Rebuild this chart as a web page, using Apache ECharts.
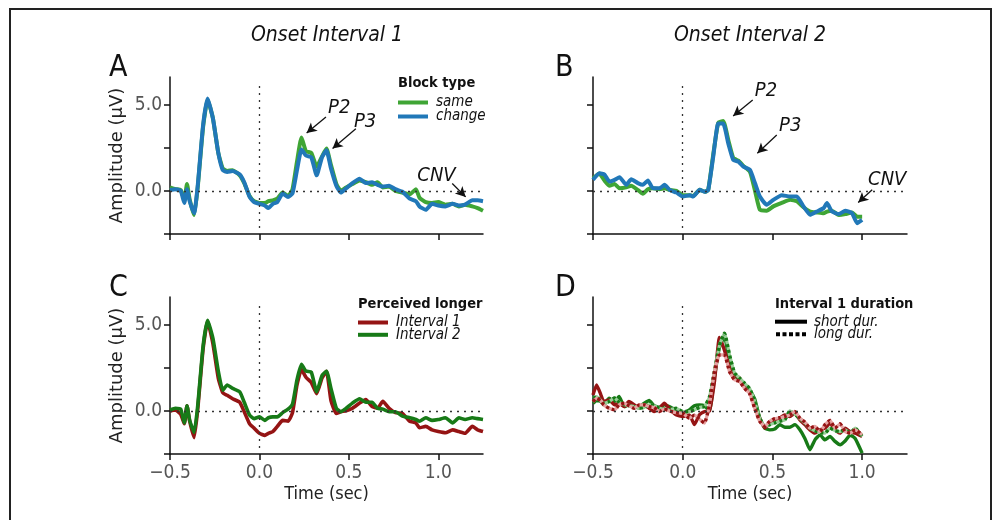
<!DOCTYPE html>
<html><head><meta charset="utf-8">
<script src="https://cdn.jsdelivr.net/npm/echarts@6/dist/echarts.min.js"></script>
<style>html,body{margin:0;padding:0;background:#fff}#c{width:1002px;height:520px}</style>
</head><body><div id="c"></div>
<script>
// ---------------- DATA ----------------
const xTicks = [-0.5, 0, 0.5, 1.0];
const yTicks = [-2.5, 0, 2.5, 5];
const yLabels = [0, 5];

// Panel A / C time points (sec)
const tA = [-0.5,-0.47,-0.44,-0.42,-0.405,-0.39,-0.365,-0.345,-0.315,-0.29,-0.26,-0.23,-0.205,-0.18,-0.15,-0.11,-0.085,-0.055,-0.03,0.0,0.03,0.05,0.075,0.1,0.13,0.16,0.185,0.21,0.235,0.26,0.29,0.32,0.35,0.375,0.40,0.43,0.455,0.485,0.52,0.56,0.595,0.63,0.66,0.69,0.725,0.76,0.80,0.84,0.875,0.895,0.93,0.965,1.0,1.04,1.08,1.115,1.15,1.19,1.22,1.25];
const aSame = [0.2,0.1,0.05,-0.5,0.4,-0.5,-1.4,0.2,3.7,5.3,4.2,2.2,1.3,1.15,1.2,0.9,0.45,-0.3,-0.6,-0.7,-0.7,-0.6,-0.55,-0.45,-0.1,-0.3,0.1,1.7,3.1,2.3,2.2,1.4,2.0,2.45,1.5,0.4,0.0,0.2,0.4,0.6,0.5,0.35,0.5,0.2,0.25,0.0,-0.1,-0.2,0.1,-0.4,-0.65,-0.7,-0.65,-0.8,-0.75,-0.9,-0.8,-0.9,-1.0,-1.15];
const aChange = [0.05,0.1,0.0,-0.7,0.1,-0.6,-1.3,0.3,3.8,5.35,4.2,2.2,1.2,1.1,1.15,0.95,0.5,-0.35,-0.65,-0.75,-0.85,-1.0,-0.75,-0.65,-0.15,-0.35,-0.15,1.2,2.4,2.05,1.95,0.9,1.95,2.35,1.3,0.3,-0.1,0.15,0.45,0.7,0.45,0.5,0.35,0.25,0.3,0.1,-0.05,-0.45,-0.6,-0.9,-1.1,-0.75,-0.85,-0.9,-0.75,-0.85,-0.8,-0.55,-0.55,-0.6];

const tC = tA;
const cInt1 = [0.0,0.05,-0.2,-0.75,0.3,-0.6,-1.55,0.1,3.6,5.2,3.9,1.9,1.05,0.9,0.7,0.5,-0.05,-0.75,-1.0,-1.3,-1.42,-1.3,-1.2,-0.9,-0.55,-0.6,-0.1,1.5,2.4,1.95,1.65,1.0,1.9,2.3,0.6,-0.15,-0.05,0.0,0.15,0.45,0.65,0.25,0.15,0.55,0.15,-0.1,-0.15,-0.6,-0.7,-0.98,-0.9,-1.1,-1.2,-1.27,-1.1,-1.2,-1.3,-0.9,-1.1,-1.2];
const cInt2 = [0.05,0.15,0.1,-0.7,0.3,-0.55,-1.25,0.3,3.75,5.25,4.2,2.3,1.2,1.5,1.3,1.1,0.5,-0.25,-0.45,-0.35,-0.55,-0.4,-0.35,-0.35,-0.1,0.1,0.4,1.8,2.7,2.3,2.25,1.1,2.05,2.3,1.3,0.15,-0.05,0.15,0.45,0.7,0.5,0.5,0.15,0.1,-0.05,-0.05,-0.3,-0.4,-0.5,-0.6,-0.4,-0.55,-0.5,-0.4,-0.7,-0.4,-0.5,-0.4,-0.45,-0.5];

// Panel B time points
const tB = [-0.5,-0.464,-0.436,-0.408,-0.38,-0.352,-0.315,-0.287,-0.25,-0.222,-0.194,-0.166,-0.129,-0.101,-0.073,-0.035,0.0,0.04,0.058,0.095,0.123,0.142,0.17,0.198,0.226,0.254,0.282,0.31,0.338,0.375,0.403,0.43,0.468,0.505,0.552,0.599,0.636,0.673,0.71,0.747,0.785,0.804,0.832,0.87,0.906,0.944,0.972,1.0];
const bSame = [0.73,1.0,0.6,0.3,0.4,0.15,0.2,0.3,0.05,-0.17,0.1,0.15,0.1,0.15,0.06,0.0,-0.25,-0.25,-0.3,0.06,-0.05,0.05,2.1,3.95,4.05,2.95,1.9,1.75,1.45,1.1,0.0,-1.1,-1.15,-0.9,-0.7,-0.52,-0.6,-0.95,-1.2,-1.25,-1.3,-1.2,-1.15,-1.4,-1.35,-1.25,-1.5,-1.5];
const bChange = [0.64,1.02,0.95,0.54,0.64,0.79,0.35,0.67,0.45,0.35,0.6,0.15,0.15,0.35,0.06,-0.1,-0.33,-0.25,-0.33,0.06,-0.05,0.05,1.98,3.9,3.9,2.75,1.79,1.7,1.4,1.21,0.44,-0.33,-0.81,-0.52,-0.25,-0.33,-0.33,-0.9,-1.39,-1.2,-1.0,-0.71,-1.2,-1.34,-1.15,-1.3,-1.87,-1.68];

// Panel D time points
const tD = [-0.5,-0.48,-0.457,-0.44,-0.41,-0.38,-0.355,-0.325,-0.3,-0.27,-0.243,-0.215,-0.187,-0.16,-0.13,-0.103,-0.075,-0.037,0.0,0.037,0.065,0.093,0.121,0.149,0.177,0.205,0.233,0.261,0.289,0.317,0.345,0.373,0.401,0.429,0.457,0.485,0.513,0.541,0.569,0.597,0.625,0.653,0.681,0.709,0.737,0.765,0.793,0.821,0.849,0.877,0.905,0.933,0.961,1.0];
const dShortI1 = [0.92,1.5,0.96,0.54,0.64,0.35,0.44,0.25,0.54,0.35,0.15,0.35,0.15,-0.04,0.15,0.44,0.15,-0.23,-0.33,-0.23,-0.8,-0.23,-0.04,0.0,1.7,4.25,3.5,2.5,2.08,1.9,1.5,1.2,0.35,-0.42,-1.0,-0.71,-0.52,-0.42,-0.23,-0.33,-0.13,-0.52,-0.8,-1.1,-1.29,-1.1,-1.0,-0.71,-1.1,-1.29,-1.0,-1.2,-1.29,-1.48];
const dShortI2 = [0.44,0.6,0.55,0.35,0.73,0.54,0.83,0.25,0.35,0.2,0.25,0.44,0.6,0.3,0.2,0.35,0.25,0.05,-0.13,0.06,0.3,0.35,0.3,0.0,2.0,3.7,4.3,2.8,2.0,1.75,1.5,1.2,0.7,-0.4,-1.0,-1.1,-1.05,-0.8,-0.95,-0.95,-0.8,-1.1,-1.6,-2.25,-1.68,-1.39,-1.68,-1.48,-1.77,-1.97,-1.75,-1.4,-1.6,-2.45];
const dLongI1 = [0.54,0.73,0.6,0.35,0.15,0.06,0.35,0.44,0.3,0.15,0.35,0.35,0.25,0.2,-0.04,0.1,0.0,-0.1,-0.13,-0.42,-0.25,-0.48,-0.71,0.35,2.27,3.24,3.24,2.27,1.8,1.7,1.3,1.0,0.15,-0.6,-0.9,-0.6,-0.45,-0.4,-0.33,-0.23,-0.04,-0.42,-0.65,-1.0,-0.9,-1.2,-0.8,-0.55,-1.0,-0.75,-1.2,-1.29,-1.1,-1.38];
const dLongI2 = [0.73,0.83,0.6,0.44,0.54,0.75,0.5,0.35,0.3,0.25,0.15,0.2,0.35,0.3,0.15,0.1,0.05,0.15,-0.04,-0.04,0.06,0.2,0.25,0.8,2.3,3.8,4.5,3.24,2.2,1.9,1.6,1.3,0.55,-0.42,-0.9,-0.8,-0.7,-0.6,-0.52,0.0,-0.2,-0.45,-0.7,-1.0,-1.15,-1.25,-1.29,-1.0,-1.15,-1.2,-1.1,-1.29,-1.0,-1.48];

// annotations: [label, label position, arrow start, arrow tip]
const annA = [
  ['P2', [0.446, 4.84], [0.372, 4.28], [0.264, 3.35]],
  ['P3', [0.591, 4.0], [0.539, 3.6], [0.409, 2.45]],
  ['CNV', [0.99, 0.9], [1.078, 0.43], [1.153, -0.35]]
];
const annB = [
  ['P2', [0.464, 5.78], [0.39, 5.26], [0.281, 4.34]],
  ['P3', [0.599, 3.76], [0.524, 3.24], [0.416, 2.18]],
  ['CNV', [1.14, 0.64], [1.056, 0.06], [0.978, -0.68]]
];

// ---------------- STYLE ----------------
const FONT = "'DejaVu Sans Condensed', 'DejaVu Sans', sans-serif";
const FONT_N = "'DejaVu Sans', sans-serif";
const C_SAME = '#3fa535', C_CHANGE = '#2178b8';
const C_RED = '#951414', C_GREEN = '#177a17';
const C_PINK = '#e6a3a3', C_LGREEN = '#98cf98';

const grids = [
  {left: 170, top: 77, width: 313, height: 157},
  {left: 593, top: 77, width: 314, height: 157},
  {left: 170, top: 297, width: 313, height: 157},
  {left: 593, top: 297, width: 314, height: 157}
];
const fmt = v => (v < 0 ? '\u2212' + Math.abs(v).toFixed(1) : v.toFixed(1));

const xAxes = grids.map((g, i) => ({
  type: 'value', gridIndex: i, min: -0.5, max: 1.25, interval: 0.5,
  axisLine: {show: true, onZero: false, lineStyle: {color: '#111', width: 1.5}},
  axisTick: {show: true, length: 6, lineStyle: {color: '#111', width: 1.5}, customValues: xTicks},
  axisLabel: {show: i >= 2, customValues: xTicks, formatter: fmt, margin: 10,
    color: '#555', fontSize: 19, fontFamily: FONT},
  splitLine: {show: false},
  name: i >= 2 ? 'Time (sec)' : '', nameLocation: 'middle', nameGap: 31,
  nameTextStyle: {color: '#222', fontSize: 18, fontFamily: FONT}
}));
const yAxes = grids.map((g, i) => ({
  type: 'value', gridIndex: i, min: -2.5, max: 6.6, interval: 2.5,
  axisLine: {show: true, onZero: false, lineStyle: {color: '#111', width: 1.5}},
  axisTick: {show: true, length: 6, lineStyle: {color: '#111', width: 1.5}, customValues: yTicks},
  axisLabel: {show: i % 2 === 0, customValues: yLabels, formatter: fmt, margin: 8,
    color: '#555', fontSize: 19, fontFamily: FONT},
  splitLine: {show: false},
  name: i % 2 === 0 ? 'Amplitude (\u03bcV)' : '', nameLocation: 'middle', nameGap: 44,
  nameTextStyle: {color: '#222', fontSize: 18, fontFamily: FONT_N}
}));

function pairs(t, v) { return t.map((x, k) => [x, v[k]]); }
function lineSeries(name, t, v, gi, color, width, extra) {
  return Object.assign({
    type: 'line', name: name, xAxisIndex: gi, yAxisIndex: gi,
    data: pairs(t, v), symbol: 'none', showSymbol: false, smooth: 0.15,
    lineStyle: {color: color, width: width}, itemStyle: {color: color},
    silent: true, animation: false
  }, extra || {});
}
function refSeries(gi) {
  return {
    type: 'line', name: 'ref' + gi, xAxisIndex: gi, yAxisIndex: gi, data: [],
    symbol: 'none', silent: true, z: 1,
    markLine: {silent: true, symbol: ['none', 'none'], animation: false,
      label: {show: false},
      lineStyle: {color: '#333', type: [2, 5], width: 1.3},
      data: [{yAxis: 0}, [{coord: [0, -2.15]}, {coord: [0, 6.1]}]]}
  };
}
function annSeries(gi, ann) {
  return {
    type: 'line', name: 'ann' + gi, xAxisIndex: gi, yAxisIndex: gi, data: [],
    symbol: 'none', silent: true, z: 5,
    markLine: {silent: true, animation: false, symbol: ['none', 'arrow'], symbolSize: [8, 10],
      label: {show: false}, lineStyle: {color: '#111', type: 'solid', width: 1.3},
      data: ann.map(a => [{coord: a[2]}, {coord: a[3]}])},
    markPoint: {silent: true, animation: false, symbol: 'circle', symbolSize: 0,
      label: {show: true, position: 'inside', formatter: '{b}', color: '#111',
        fontSize: 20, fontStyle: 'italic', fontFamily: FONT},
      data: ann.map(a => ({name: a[0], coord: a[1]}))}
  };
}

const series = [
  refSeries(0), refSeries(1), refSeries(2), refSeries(3),
  lineSeries('same', tA, aSame, 0, C_SAME, 4, {z: 2}),
  lineSeries('change', tA, aChange, 0, C_CHANGE, 4, {z: 3}),
  lineSeries('B same', tB, bSame, 1, C_SAME, 4, {z: 2}),
  lineSeries('B change', tB, bChange, 1, C_CHANGE, 4, {z: 3}),
  lineSeries('Interval 1', tC, cInt1, 2, C_RED, 3.6, {z: 2}),
  lineSeries('Interval 2', tC, cInt2, 2, C_GREEN, 3.6, {z: 3}),
  lineSeries('D short I2', tD, dShortI2, 3, C_GREEN, 3.4, {z: 2}),
  lineSeries('D short I1', tD, dShortI1, 3, C_RED, 3.4, {z: 2}),
  lineSeries('D long I2 base', tD, dLongI2, 3, C_LGREEN, 3.2, {z: 3}),
  lineSeries('D long I2', tD, dLongI2, 3, C_GREEN, 3.4, {z: 3, lineStyle: {color: C_GREEN, width: 3.4, type: [3, 3]}}),
  lineSeries('D long I1 base', tD, dLongI1, 3, C_PINK, 3.2, {z: 4}),
  lineSeries('D long I1', tD, dLongI1, 3, C_RED, 3.4, {z: 4, lineStyle: {color: C_RED, width: 3.4, type: [3, 3]}}),
  {type: 'line', name: 'short dur.', xAxisIndex: 3, yAxisIndex: 3, data: [], itemStyle: {color: '#000'}, lineStyle: {color: '#000'}},
  {type: 'line', name: 'long dur.', xAxisIndex: 3, yAxisIndex: 3, data: [], itemStyle: {color: '#000'}, lineStyle: {color: '#000'}},
  annSeries(0, annA), annSeries(1, annB)
];

const legendText = {fontFamily: FONT, fontStyle: 'italic', fontSize: 15, color: '#111'};
const dotted = 'path://M0,0h4v4h-4z M6.5,0h4v4h-4z M13,0h4v4h-4z M19.5,0h4v4h-4z M26,0h4v4h-4z';
const legends = [
  {data: ['same', 'change'], left: 398, top: 95, padding: 0, orient: 'vertical', icon: 'rect',
    itemWidth: 30, itemHeight: 4, itemGap: -1, selectedMode: false,
    textStyle: Object.assign({lineHeight: 14, padding: [0, 0, 0, 3]}, legendText)},
  {data: ['Interval 1', 'Interval 2'], left: 358, top: 315, padding: 0, orient: 'vertical', icon: 'rect',
    itemWidth: 30, itemHeight: 4, itemGap: -2.7, selectedMode: false,
    textStyle: Object.assign({lineHeight: 12, padding: [0, 0, 0, 3]}, legendText)},
  {data: [{name: 'short dur.', icon: 'rect'}, {name: 'long dur.', icon: dotted}],
    left: 775, top: 314.2, padding: 0, orient: 'vertical',
    itemWidth: 32, itemHeight: 4, itemGap: -2.4, selectedMode: false,
    textStyle: Object.assign({lineHeight: 12, padding: [0, 0, 0, 2]}, legendText)}
];

function txt(x, y, text, size, opts) {
  return {type: 'text', x: x, y: y, silent: true, z: 10,
    style: Object.assign({text: text, fill: '#111', fontSize: size, fontFamily: FONT,
      align: 'left', verticalAlign: 'middle'}, opts || {})};
}
const graphics = [
  {type: 'rect', shape: {x: 10, y: 9, width: 981, height: 540}, silent: true,
    style: {fill: 'none', stroke: '#222', lineWidth: 2}},
  txt(327, 36, 'Onset Interval 1', 21, {fontStyle: 'italic', align: 'center'}),
  txt(750, 36, 'Onset Interval 2', 21, {fontStyle: 'italic', align: 'center'}),
  txt(109, 68, 'A', 30), txt(555, 68, 'B', 30),
  txt(109, 288, 'C', 30), txt(555, 288, 'D', 30),
  txt(398, 83, 'Block type', 14.5, {fontWeight: 'bold'}),
  txt(358, 304, 'Perceived longer', 14.5, {fontWeight: 'bold'}),
  txt(775, 304, 'Interval 1 duration', 14.5, {fontWeight: 'bold'})
];

const chart = echarts.init(document.getElementById('c'), null, {renderer: 'canvas'});
chart.setOption({
  animation: false,
  backgroundColor: '#fff',
  grid: grids,
  xAxis: xAxes,
  yAxis: yAxes,
  legend: legends,
  series: series,
  graphic: graphics
});
</script></body></html>
